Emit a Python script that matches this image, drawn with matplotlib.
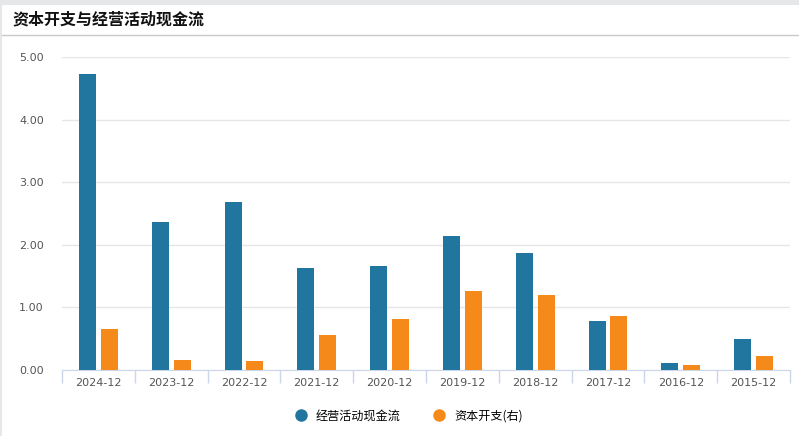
import matplotlib
matplotlib.use("Agg")
import matplotlib.pyplot as plt
import numpy as np
from matplotlib.lines import Line2D
from matplotlib.patches import Rectangle

plt.rcParams['font.family'] = ['Noto Sans CJK SC', 'DejaVu Sans']

# 数据
periodos = ['2024-12', '2023-12', '2022-12', '2021-12', '2020-12',
            '2019-12', '2018-12', '2017-12', '2016-12', '2015-12']
fluxo_operacional = [4.73, 2.36, 2.68, 1.63, 1.66, 2.14, 1.87, 0.78, 0.11, 0.50]
capex = [0.65, 0.16, 0.14, 0.56, 0.81, 1.26, 1.20, 0.86, 0.08, 0.23]
yticks = [0, 1, 2, 3, 4, 5]

cor_azul = '#21769f'
cor_laranja = '#f58a1a'

fig = plt.figure(figsize=(7.99, 4.36), dpi=100)
W, H = 799, 436

# moldura cinza do cartão
fig.patches.append(Rectangle((0, 0), 1, 1, transform=fig.transFigure,
                             facecolor='#e6e7e9', edgecolor='none', zorder=-3))
fig.patches.append(Rectangle((2 / W, 0), 1, 1 - 5 / H, transform=fig.transFigure,
                             facecolor='white', edgecolor='none', zorder=-2))
fig.lines.append(Line2D([2 / W, 1], [1 - 35 / H, 1 - 35 / H], transform=fig.transFigure,
                        color='#c8c8c8', lw=1))
fig.text(12 / W, 1 - 19 / H, '资本开支与经营活动现金流', fontsize=11.5,
         fontweight='bold', va='center', ha='left', color='#111111')

ax = fig.add_axes([62 / W, 1 - 370 / H, 728 / W, 313 / H])
x = np.arange(len(periodos))
largura = 0.235
ax.bar(x - 0.15, fluxo_operacional, largura, color=cor_azul, zorder=3)
ax.bar(x + 0.15, capex, largura, color=cor_laranja, zorder=3)

ax.set_xlim(-0.5, len(periodos) - 0.5)
ax.set_ylim(0, 5)
ax.set_yticks(yticks)
ax.set_yticklabels(['%.2f' % v for v in yticks], fontsize=8, color='#555555',
                   family='DejaVu Sans')
ax.grid(axis='y', color='#e6e6e6', lw=1, zorder=0)
ax.tick_params(axis='y', length=0, pad=13)

ax.set_xticks(x)
ax.set_xticklabels(periodos, fontsize=8, color='#555555', family='DejaVu Sans')
ax.tick_params(axis='x', which='major', length=0, pad=6)
ax.set_xticks(np.arange(-0.5, len(periodos)), minor=True)
ax.tick_params(axis='x', which='minor', length=9, color='#ccd6eb', width=1)

for lado in ['top', 'right', 'left']:
    ax.spines[lado].set_visible(False)
ax.spines['bottom'].set_color('#ccd6eb')

handles = [
    Line2D([], [], marker='o', ls='none', markersize=8, color=cor_azul, label='经营活动现金流'),
    Line2D([], [], marker='o', ls='none', markersize=8, color=cor_laranja, label='资本开支(右)'),
]
fig.legend(handles=handles, loc='center', bbox_to_anchor=(0.508, 1 - 416 / H), ncol=2,
           frameon=False, handletextpad=0.2, columnspacing=2.2,
           prop={'size': 8.7, 'weight': 'medium'})

fig.savefig('out.png', dpi=100)
